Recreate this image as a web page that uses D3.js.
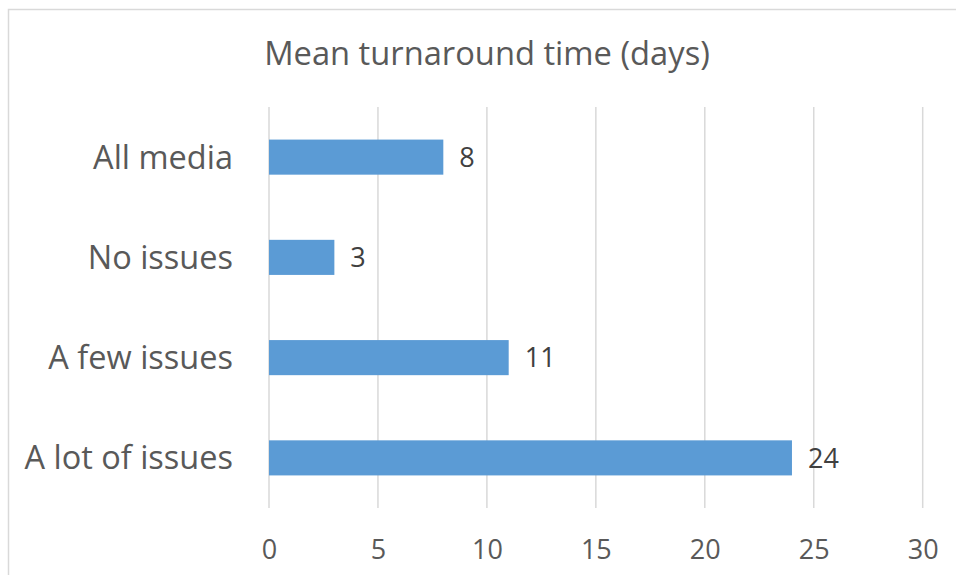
<!DOCTYPE html>
<html>
<head>
<meta charset="utf-8">
<script src="https://cdn.jsdelivr.net/npm/d3@7"></script>
<style>
  html, body { margin: 0; padding: 0; background: #fff; }
  svg { display: block; }
  text { font-family: "Open Sans", Lato, sans-serif; }
</style>
</head>
<body>
<svg id="chart" width="956" height="575"></svg>
<script>
// Mean turnaround time by media condition
const categories = ["All media", "No issues", "A few issues", "A lot of issues"];
const values = [8, 3, 11, 24];
const xTicks = [0, 5, 10, 15, 20, 25, 30];
const title = "Mean turnaround time (days)";

const FONT = "'Open Sans', Lato, sans-serif";
const svg = d3.select("#chart");
const W = 956, H = 575;

// chart frame
svg.append("rect")
  .attr("x", 8.5).attr("y", 9.5)
  .attr("width", W + 10).attr("height", H + 10)
  .attr("fill", "#fff")
  .attr("stroke", "#d9d9d9").attr("stroke-width", 1.5);

const plot = { left: 269, right: 922.7, top: 107, bottom: 508 };

const x = d3.scaleLinear().domain([0, 30]).range([plot.left, plot.right]);
const y = d3.scaleBand().domain(categories)
  .range([plot.top, plot.bottom])
  .paddingInner(0.65).paddingOuter(0.325);

// vertical gridlines
svg.append("g").selectAll("line").data(xTicks).join("line")
  .attr("x1", d => x(d)).attr("x2", d => x(d))
  .attr("y1", plot.top).attr("y2", plot.bottom)
  .attr("stroke", "#d9d9d9").attr("stroke-width", 1.5);

// x axis tick labels
const xAxis = d3.axisBottom(x).tickValues(xTicks).tickSize(0).tickPadding(0);
const gx = svg.append("g").attr("transform", `translate(0, ${plot.bottom})`).call(xAxis);
gx.select(".domain").remove();
gx.selectAll("text")
  .attr("dy", null).attr("y", 51)
  .attr("font-size", 27).attr("fill", "#595959")
  .style("font-family", FONT);

// y axis category labels
const yAxis = d3.axisLeft(y).tickSize(0).tickPadding(0);
const gy = svg.append("g").attr("transform", `translate(${plot.left}, 0)`).call(yAxis);
gy.select(".domain").remove();
gy.selectAll("text")
  .attr("x", -36).attr("dy", "0.35em")
  .attr("font-size", 32.5).attr("fill", "#595959")
  .style("font-family", FONT);

// bars
svg.append("g").selectAll("rect").data(values).join("rect")
  .attr("x", x(0))
  .attr("y", (d, i) => y(categories[i]))
  .attr("width", d => x(d) - x(0))
  .attr("height", y.bandwidth())
  .attr("fill", "#5b9bd5");

// value labels
svg.append("g").selectAll("text").data(values).join("text")
  .attr("x", d => x(d) + 16)
  .attr("y", (d, i) => y(categories[i]) + y.bandwidth() / 2)
  .attr("dy", "0.36em")
  .attr("font-size", 27).attr("fill", "#404040")
  .text(d => d);

// title
svg.append("text")
  .attr("x", 487).attr("y", 65)
  .attr("text-anchor", "middle")
  .attr("font-size", 32.7).attr("fill", "#595959")
  .text(title);
</script>
</body>
</html>
